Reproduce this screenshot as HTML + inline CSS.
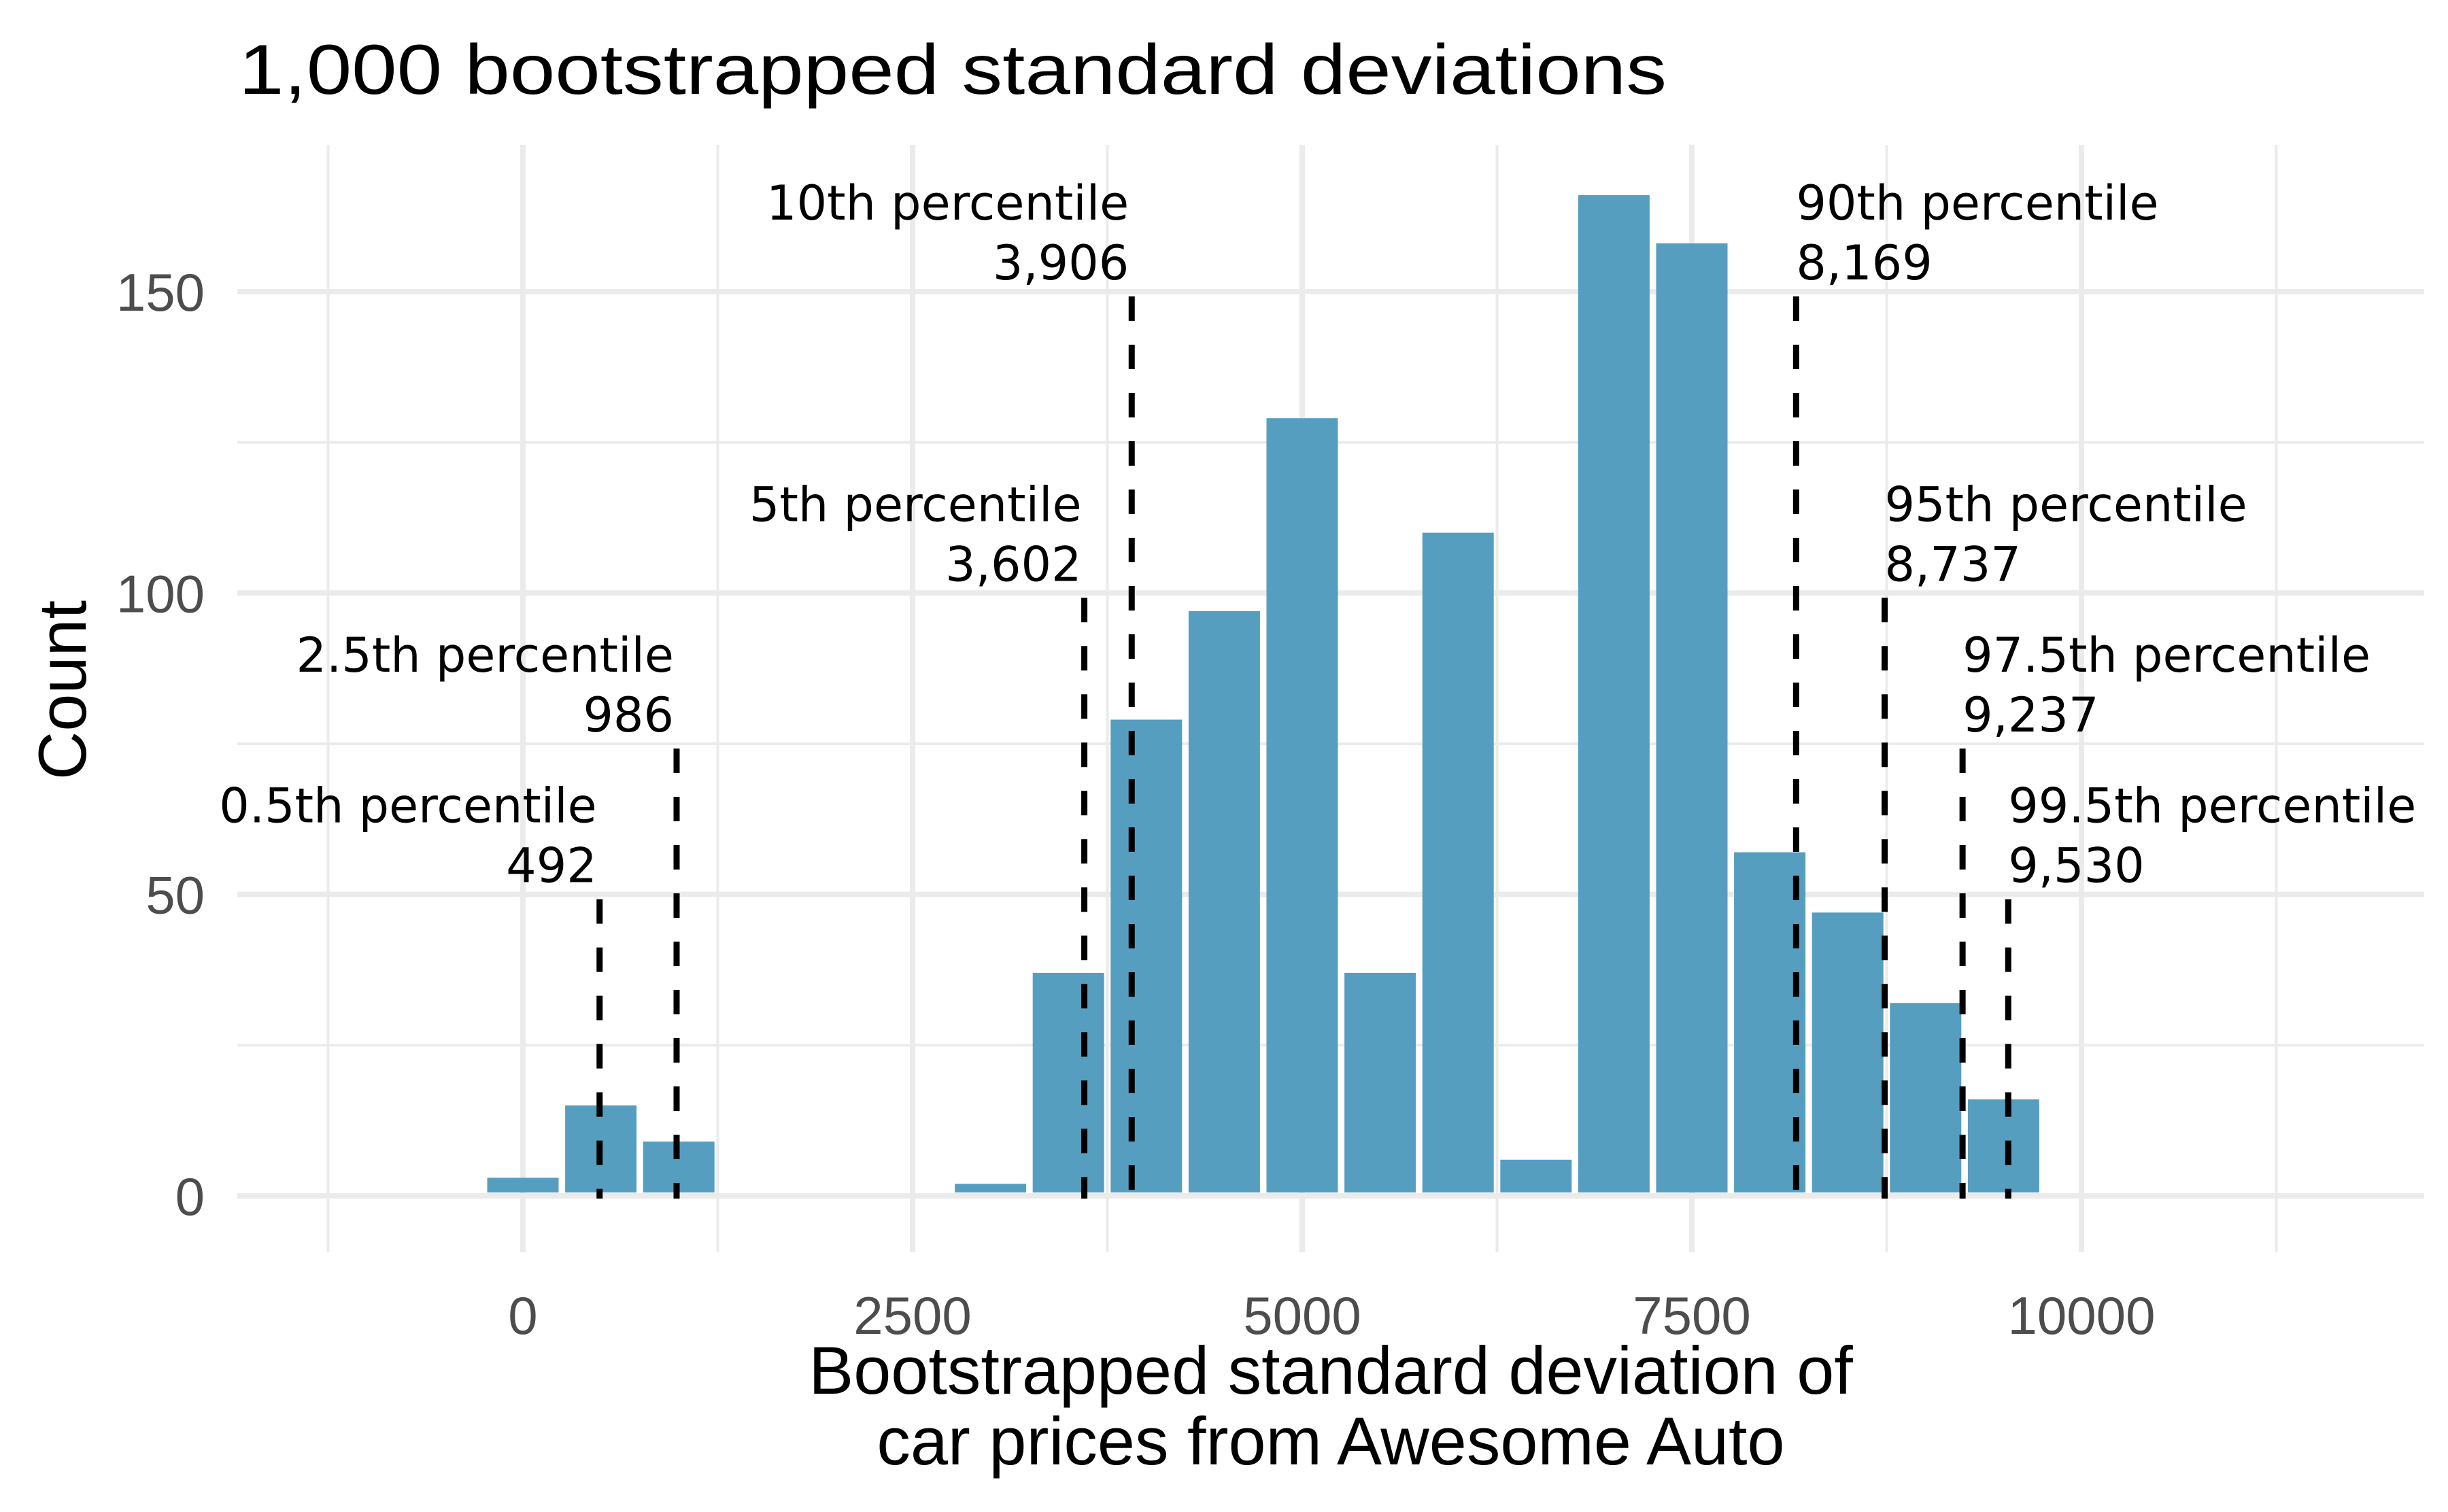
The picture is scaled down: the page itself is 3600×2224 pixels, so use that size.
<!DOCTYPE html>
<html><head><meta charset="utf-8"><style>
html,body{margin:0;padding:0;background:#fff;}
svg{display:block;}
.t{font-family:"Liberation Sans",Arial,sans-serif;}
.d{font-family:"DejaVu Sans",sans-serif;}
</style></head><body>
<svg id="chart" width="3600" height="2224" viewBox="0 0 3600 2224" xmlns="http://www.w3.org/2000/svg">
<rect width="3600" height="2224" fill="#fff"/>
<g id="grid"></g>
<g id="bars"></g>
<g id="pct"></g>
<g id="axes"></g>
<text class="t" x="351" y="138" font-size="104" fill="#000" textLength="2100" lengthAdjust="spacingAndGlyphs">1,000 bootstrapped standard deviations</text>
<text class="t" x="1957" y="2050" font-size="99" text-anchor="middle" fill="#000">Bootstrapped standard deviation of</text>
<text class="t" x="1957" y="2154" font-size="99" text-anchor="middle" fill="#000">car prices from Awesome Auto</text>
<text class="t" x="0" y="0" font-size="99" text-anchor="middle" fill="#000" transform="translate(126,1015) rotate(-90)">Count</text>
</svg>
<script>
const binCenters=[0,500,1000,1500,2000,2500,3000,3500,4000,4500,5000,5500,6000,6500,7000,7500,8000,8500,9000,9500];
const binCounts=[3,15,9,0,0,0,2,37,79,97,129,37,110,6,166,158,57,47,32,16];
const binWidth=500;
const xTicks=[0,2500,5000,7500,10000];
const xTickLabels=["0","2500","5000","7500","10000"];
const xMinor=[-1250,1250,3750,6250,8750,11250];
const yTicks=[0,50,100,150];
const yMinor=[25,75,125];
const pctNames=["0.5th percentile","2.5th percentile","5th percentile","10th percentile","90th percentile","95th percentile","97.5th percentile","99.5th percentile"];
const pctValues=[492,986,3602,3906,8169,8737,9237,9530];
const pctLabels=["492","986","3,602","3,906","8,169","8,737","9,237","9,530"];
const pctHeights=[50,75,100,150,150,100,75,50];
const pctSide=["l","l","l","l","r","r","r","r"];

const NS="http://www.w3.org/2000/svg";
const PL=349,PR=3565,PT=213,PB=1842;
const X=v=>769+v*0.2292;
const Y=v=>1759-v*8.867;
function mk(tag,parent,attrs){const e=document.createElementNS(NS,tag);for(const k in attrs)e.setAttribute(k,attrs[k]);parent.appendChild(e);return e;}
const grid=document.getElementById('grid'),bars=document.getElementById('bars'),pct=document.getElementById('pct'),axes=document.getElementById('axes');
xMinor.forEach(v=>{const l=mk('line',grid,{x1:X(v),x2:X(v),y1:PT,y2:PB,stroke:'#ebebeb','stroke-width':4});

});
yMinor.forEach(v=>{const l=mk('line',grid,{x1:PL,x2:PR,y1:Y(v),y2:Y(v),stroke:'#ebebeb','stroke-width':4});

});
xTicks.forEach((v,i)=>{const l=mk('line',grid,{x1:X(v),x2:X(v),y1:PT,y2:PB,stroke:'#ebebeb','stroke-width':8});


const t=mk('text',axes,{x:X(v),y:1962,'font-size':78,'text-anchor':'middle',fill:'#4d4d4d',class:'t'});t.textContent=xTickLabels[i];

});
yTicks.forEach(v=>{const l=mk('line',grid,{x1:PL,x2:PR,y1:Y(v),y2:Y(v),stroke:'#ebebeb','stroke-width':8});


const t=mk('text',axes,{x:301,y:Y(v)+28,'font-size':78,'text-anchor':'end',fill:'#4d4d4d',class:'t'});t.textContent=String(v);

});
binCenters.forEach((c,i)=>{const x0=X(c-binWidth/2),x1=X(c+binWidth/2),y=Y(binCounts[i]);
const r=mk('rect',bars,{x:x0+4.8,width:x1-x0-9.6,y:y,height:Math.max(Y(0)-5-y,0),fill:'#569ec0'});

});
pctValues.forEach((v,i)=>{const x=X(v),top=Y(pctHeights[i]);
const l=mk('line',pct,{x1:x,x2:x,y1:top+7,y2:Y(0)+4,stroke:'#000','stroke-width':9,'stroke-dasharray':'36,35'});


const anc=pctSide[i]==='l'?'end':'start';
const tx=pctSide[i]==='l'?x-4:x;
const t1=mk('text',pct,{x:tx,y:top-106,'font-size':70,'text-anchor':anc,fill:'#000',class:'d'});t1.textContent=pctNames[i];


const t2=mk('text',pct,{x:tx,y:top-18,'font-size':70,'text-anchor':anc,fill:'#000',class:'d'});t2.textContent=pctLabels[i];

});
</script>
</body></html>
